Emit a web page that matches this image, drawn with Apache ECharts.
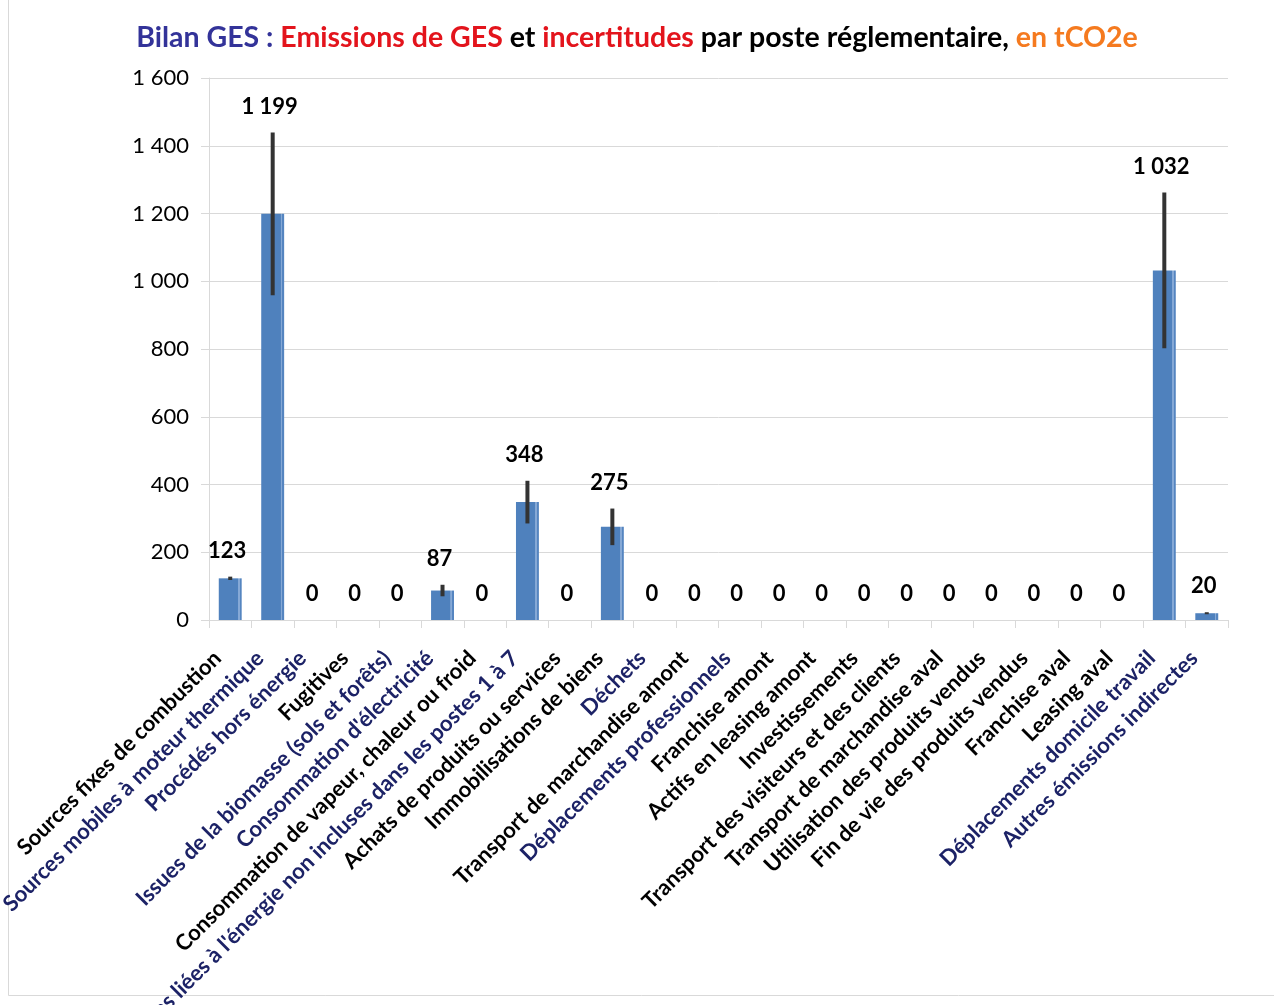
<!DOCTYPE html>
<html><head><meta charset="utf-8">
<script src="https://cdn.jsdelivr.net/npm/echarts@6/dist/echarts.min.js"></script>
<style>html,body{margin:0;padding:0;background:#fff;overflow:hidden}#c{width:1274px;height:1005px}</style>
</head><body><div id="c"></div>
<script>
// ---- data ----
const categories = [
  "Sources fixes de combustion",
  "Sources mobiles à moteur thermique",
  "Procédés hors énergie",
  "Fugitives",
  "Issues de la biomasse (sols et forêts)",
  "Consommation d'électricité",
  "Consommation de vapeur, chaleur ou froid",
  "Emissions liées à l'énergie non incluses dans les postes 1 à 7",
  "Achats de produits ou services",
  "Immobilisations de biens",
  "Déchets",
  "Transport de marchandise amont",
  "Déplacements professionnels",
  "Franchise amont",
  "Actifs en leasing amont",
  "Investissements",
  "Transport des visiteurs et des clients",
  "Transport de marchandise aval",
  "Utilisation des produits vendus",
  "Fin de vie des produits vendus",
  "Franchise aval",
  "Leasing aval",
  "Déplacements domicile travail",
  "Autres émissions indirectes"
];
const emissions   = [123, 1199, 0, 0, 0, 87, 0, 348, 0, 275, 0, 0, 0, 0, 0, 0, 0, 0, 0, 0, 0, 0, 1032, 20];
const uncertainty = [5, 240, 0, 0, 0, 17, 0, 63, 0, 54, 0, 0, 0, 0, 0, 0, 0, 0, 0, 0, 0, 0, 230, 3];
const yMin = 0, yMax = 1600, yStep = 200;
const shadedLabels = new Set([
  "Sources mobiles à moteur thermique", "Procédés hors énergie",
  "Issues de la biomasse (sols et forêts)", "Consommation d'électricité",
  "Emissions liées à l'énergie non incluses dans les postes 1 à 7",
  "Déchets", "Déplacements professionnels",
  "Déplacements domicile travail", "Autres émissions indirectes"
]);

// ---- chart ----
const FONT = 'Lato';
function fmt(v){ return String(v).replace(/\B(?=(\d{3})+(?!\d))/g, ' '); }

const chart = echarts.init(document.getElementById('c'), null, {renderer:'canvas', width:1274, height:1005});
const barColor = new echarts.graphic.LinearGradient(0,0,1,0,[
  {offset:0, color:'#4f81bd'},
  {offset:0.84, color:'#4f81bd'},
  {offset:0.85, color:'#86a9d6'},
  {offset:0.91, color:'#86a9d6'},
  {offset:0.92, color:'#5585c0'},
  {offset:1, color:'#5585c0'}
]);

chart.setOption({
  animation: false,
  backgroundColor: '#fff',
  title: {
    left: 'center', top: 18,
    text: '{a|Bilan GES :} {b|Emissions de GES} {c|et} {b|incertitudes} {c|par poste réglementaire,} {d|en tCO2e}',
    textStyle: {
      fontFamily: FONT, fontSize: 28.5, fontWeight: 'bold',
      rich: {
        a: {color:'#333399', fontFamily: FONT, fontSize: 28.5, fontWeight:'bold'},
        b: {color:'#e3141c', fontFamily: FONT, fontSize: 28.5, fontWeight:'bold'},
        c: {color:'#000000', fontFamily: FONT, fontSize: 28.5, fontWeight:'bold'},
        d: {color:'#f57a1f', fontFamily: FONT, fontSize: 28.5, fontWeight:'bold'}
      }
    }
  },
  graphic: [{
    type:'rect', silent:true, z:-1,
    shape:{x:8.5, y:-10, width:1300, height:1005.5},
    style:{fill:'none', stroke:'#d9d9d9', lineWidth:1}
  }],
  grid: {left: 209, width: 1019, top: 78, height: 542, containLabel: false, outerBoundsMode: 'none'},
  xAxis: {
    type: 'category',
    data: categories,
    axisLine: {lineStyle: {color:'#d9d9d9'}},
    axisTick: {show:true, length: 8, lineStyle:{color:'#d9d9d9'}},
    axisLabel: {
      interval: 0, rotate: 45, margin: 22, hideOverlap: false,
      padding: [0, 18, 0, 0],
      formatter: v => shadedLabels.has(v) ? '{s|' + v + '}' : '{n|' + v + '}',
      rich: {
        n: {fontFamily: FONT, fontSize: 22, fontWeight:'bold', color:'#000'},
        s: {fontFamily: FONT, fontSize: 22, fontWeight:'bold', color:'#1c2266',
            textShadowColor:'rgba(230,140,30,0.9)', textShadowOffsetX:1, textShadowOffsetY:1, textShadowBlur:0}
      }
    }
  },
  yAxis: {
    type: 'value', min: yMin, max: yMax, interval: yStep,
    axisLine: {show:true, lineStyle:{color:'#d9d9d9'}},
    axisTick: {show:true, length: 8, lineStyle:{color:'#d9d9d9'}},
    splitLine: {lineStyle:{color:'#d9d9d9'}},
    axisLabel: {margin: 20, fontFamily: FONT, fontSize: 22, color:'#000', formatter: v => fmt(v)}
  },
  series: [
    {
      type: 'bar', data: emissions, barWidth: '54%',
      itemStyle: {color: barColor}
    },
    {
      type: 'custom',
      data: emissions.map((v,i) => [i, v, uncertainty[i]]),
      encode: {x:0, y:1},
      z: 5,
      renderItem: function(params, api){
        const i = api.value(0), v = api.value(1), e = api.value(2);
        const top = api.coord([i, v + e]);
        const bot = api.coord([i, v - e]);
        const children = [];
        if (e > 0) {
          children.push({type:'rect', shape:{x: top[0]-2, y: top[1], width:4, height: Math.max(1, bot[1]-top[1])},
            style:{fill:'#333333'}});
        }
        children.push({type:'text', style:{text: fmt(v), x: top[0]-3, y: top[1]-26,
          align:'center', verticalAlign:'middle', fontFamily: FONT, fontSize:22, fontWeight:'bold', fill:'#000'}});
        return {type:'group', children};
      }
    }
  ]
});
</script>
</body></html>
